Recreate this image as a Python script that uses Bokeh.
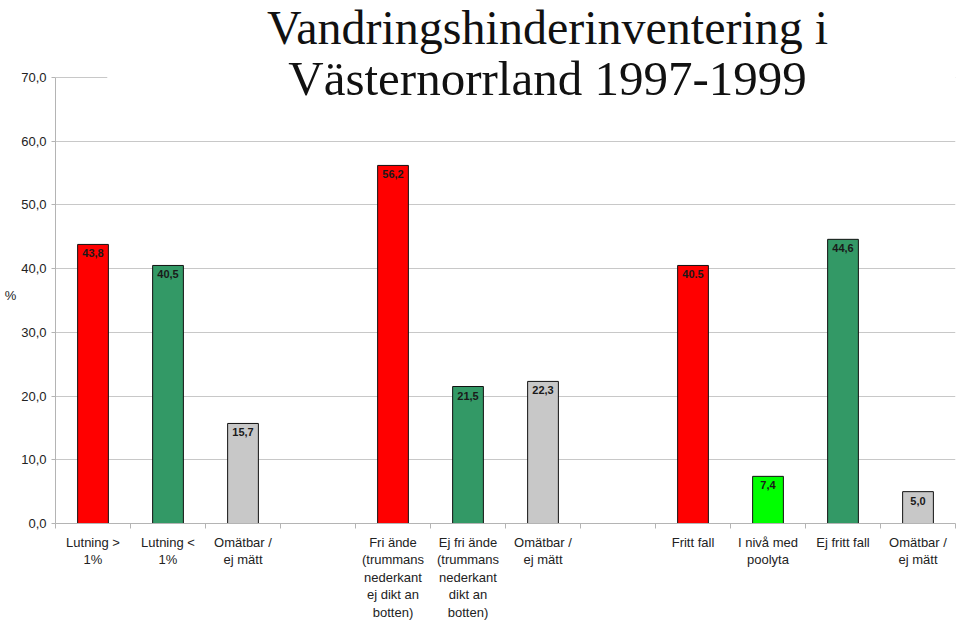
from bokeh.plotting import figure
from bokeh.models import FixedTicker, Label, BoxAnnotation, ColumnDataSource, Range1d
from bokeh.core.properties import value
from bokeh.embed import file_html
from bokeh.resources import INLINE

# ---- data ----
categories = [
    "Lutning >\n1%", "Lutning <\n1%", "Omätbar /\nej mätt", "",
    "Fri ände\n(trummans\nnederkant\nej dikt an\nbotten)",
    "Ej fri ände\n(trummans\nnederkant\ndikt an\nbotten)",
    "Omätbar /\nej mätt", "",
    "Fritt fall", "I nivå med\npoolyta", "Ej fritt fall", "Omätbar /\nej mätt",
]
values = [43.8, 40.5, 15.7, None, 56.2, 21.5, 22.3, None, 40.5, 7.4, 44.6, 5.0]
value_labels = ["43,8", "40,5", "15,7", "", "56,2", "21,5", "22,3", "", "40.5", "7,4", "44,6", "5,0"]
bar_colors = ["#ff0000", "#339966", "#c8c8c8", None, "#ff0000", "#339966", "#c8c8c8", None,
              "#ff0000", "#00ff00", "#339966", "#c8c8c8"]
y_ticks = [0, 10, 20, 30, 40, 50, 60, 70]
y_tick_labels = ["0,0", "10,0", "20,0", "30,0", "40,0", "50,0", "60,0", "70,0"]
title_lines = ["Vandringshinderinventering i", "Västernorrland 1997-1999"]
y_unit = "%"

n = len(categories)
xs, tops, labs, cols = [], [], [], []
for i, v in enumerate(values):
    if v is None:
        continue
    xs.append(i + 0.5)
    tops.append(v)
    labs.append(value_labels[i])
    cols.append(bar_colors[i])
src = ColumnDataSource(dict(x=xs, top=tops, label=labs, color=cols))

FONT = "Liberation Sans"

# frame spans the full height above the x axis; the axis itself stops at 70
frame_h = 523
px_per_unit = 446 / 70.0
y_top = frame_h / px_per_unit

p = figure(frame_width=900, frame_height=frame_h,
           x_range=Range1d(0, n), y_range=Range1d(0, y_top),
           output_backend="svg", toolbar_location=None,
           min_border_left=55, min_border_right=4, min_border_top=0, min_border_bottom=97)
p.outline_line_color = None
p.background_fill_color = "white"
p.border_fill_color = "white"

# x axis
centers = [i + 0.5 for i in range(n)]
bounds = [float(i) for i in range(n + 1)]
p.xaxis.ticker = FixedTicker(ticks=centers, minor_ticks=bounds)
p.xaxis.major_label_overrides = {c: categories[i] for i, c in enumerate(centers)}
p.xaxis.major_tick_out = 0
p.xaxis.major_tick_in = 0
p.xaxis.minor_tick_out = 5
p.xaxis.minor_tick_in = 0
p.xaxis.minor_tick_line_color = "#b4b4b4"
p.xaxis.axis_line_color = "#b4b4b4"
p.xaxis.major_label_standoff = 6
p.xaxis.major_label_text_font = FONT
p.xaxis.major_label_text_font_size = "13px"
p.xaxis.major_label_text_color = "#222222"
p.xaxis.major_label_text_line_height = 1.17
p.xgrid.visible = False

# y axis
p.yaxis.ticker = FixedTicker(ticks=y_ticks)
p.yaxis.bounds = (y_ticks[0], y_ticks[-1])
p.yaxis.major_label_overrides = {t: y_tick_labels[i] for i, t in enumerate(y_ticks)}
p.yaxis.minor_tick_line_color = None
p.yaxis.major_tick_out = 4
p.yaxis.major_tick_in = 0
p.yaxis.major_tick_line_color = "#b4b4b4"
p.yaxis.axis_line_color = "#b4b4b4"
p.yaxis.major_label_standoff = 5
p.yaxis.major_label_text_font = FONT
p.yaxis.major_label_text_font_size = "13px"
p.yaxis.major_label_text_color = "#222222"
# unit label sits below the frame's middle, as in the reference
p.yaxis.axis_label = "\n\n\n\n" + y_unit
p.yaxis.axis_label_text_font = FONT
p.yaxis.axis_label_text_font_size = "13px"
p.yaxis.axis_label_text_font_style = "normal"
p.yaxis.axis_label_text_color = "#222222"
p.yaxis.axis_label_text_line_height = 1.1
p.yaxis.axis_label_standoff = 2
ax = p.yaxis[0]
if "axis_label_orientation" in ax.properties():
    ax.axis_label_orientation = "horizontal"
p.ygrid.ticker = FixedTicker(ticks=y_ticks)
p.ygrid.grid_line_color = "#c8c8c8"

# bars
p.vbar(x="x", top="top", width=0.41, fill_color="color", line_color="#111111",
       line_width=1, source=src)
p.text(x="x", y="top", text="label", source=src, text_align="center", text_baseline="top",
       y_offset=5, text_font=value(FONT), text_font_size="11px", text_font_style="bold",
       text_color="#1a1a1a")

# title background box (covers top gridline)
p.add_layout(BoxAnnotation(left=0.69, right=n, bottom=69, top=y_top, fill_color="white",
                           fill_alpha=1.0, line_alpha=0.0, level="annotation"))

# first title line hangs from the top edge, second sits on its baseline
p.add_layout(Label(x=6.56, y=y_top, text=title_lines[0], text_align="center", text_baseline="top",
                   text_font="Liberation Serif", text_font_size="48px", text_color="#111111",
                   level="annotation"))
p.add_layout(Label(x=6.56, y=69.8, text=title_lines[1], text_align="center",
                   text_baseline="alphabetic", text_font="Liberation Serif",
                   text_font_size="49px", text_color="#111111", level="annotation"))

open("out.html", "w").write(file_html(p, INLINE))
